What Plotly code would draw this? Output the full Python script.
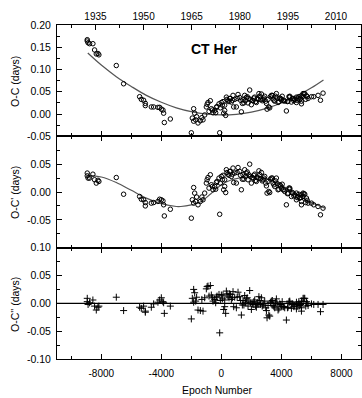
import plotly.graph_objects as go

# ---------------- data ----------------
epoch = [-8934, -8934, -8880, -8780, -8560, -8447, -8333, -8160, -8220, -7000,
         -6513, -5447, -5333, -5180, -5067, -5067, -4667, -4513, -4227, -4113,
         -4000, -3893, -3847, -3800, -3400,
         -2002, -113, -1847, -1780, -1936, -1847, -1713, -1558, -1402, -1225,
         -1113, -1002, -891, -736, -824, -669, -558, -447, -380, -291,
         -158, -69, -2, 64, 153, 220, 286, 331, 442, 553,
         664, 775, 886, 997, 1109, 1220, 1331, 1397, 1442, 1553,
         1664, 1775, 1886, 1931, 1997, 2108, 2220, 2331, 2442, 2553,
         2664, 2775, 2886, 2953, 3042, 3108, 3219, 3331, 3442, 3553,
         3664, 3775, 3886, 3997, 4108, 4219, 4330, 4442, 4553, 4664,
         4775, 4886, 4997, 5108, 5219, 5330, 5441, 5619, 5775, 4553,
         5000, 5333, 5440, 5553, 5333, 5667, 6000, 6153, 6440, 6600, 6773,
         -336, 109, 220, 375, 508, 597, 731, 820, 1050, 1280,
         1500, 1600, 1720, 1830, 2050, 2160, 2280, 2390, 2500, 2610,
         2720, 2830, 3000, 3160, 3264, 3397, 3500, 3610, 3720, 3830,
         3950, 4050, 4160, 4400, 4500, 4720, 4830, 5050, 5160, 5280,
         5500, 5720, -600, -950, -1300, -1650]

oc = [0.167, 0.164, 0.160, 0.158, 0.158, 0.144, 0.135, 0.133, 0.136, 0.109,
      0.068, 0.039, 0.033, 0.031, 0.024, 0.019, 0.016, 0.016, 0.015, 0.015,
      0.011, 0.009, 0.002, -0.019, -0.011,
      -0.042, -0.042, 0.012, 0.002, -0.009, -0.016, -0.013, -0.020, -0.015, -0.013,
      -0.002, 0.016, 0.026, 0.030, 0.006, 0.012, 0.003, 0.008, 0.003, 0.017,
      0.023, 0.014, 0.026, 0.020, 0.002, 0.008, -0.003, 0.038, 0.030, 0.035,
      0.027, 0.042, 0.033, 0.016, 0.044, 0.037, 0.005, 0.024, 0.032, 0.042,
      0.037, 0.025, 0.054, 0.032, 0.021, 0.030, 0.038, 0.026, 0.033, 0.040,
      0.045, 0.033, 0.040, 0.029, 0.011, 0.033, 0.014, 0.042, 0.034, 0.029,
      0.046, 0.026, 0.036, 0.032, 0.030, 0.029, 0.007, 0.029, 0.038, 0.027,
      0.035, 0.033, 0.026, 0.034, 0.033, 0.029, 0.046, 0.033, 0.035, 0.040,
      0.038, 0.041, 0.040, 0.046, 0.023, 0.041, 0.039, 0.039, 0.042, 0.031, 0.047,
      0.015, 0.028, 0.020, 0.033, 0.028, 0.035, 0.031, 0.016, 0.035, 0.031,
      0.025, 0.030, 0.039, 0.035, 0.031, 0.036, 0.028, 0.035, 0.046, 0.033,
      0.030, 0.036, 0.024, 0.016, 0.039, 0.042, 0.031, 0.040, 0.036, 0.028,
      0.035, 0.040, 0.031, 0.028, 0.039, 0.035, 0.030, 0.031, 0.039, 0.035,
      0.046, 0.039, 0.009, 0.022, -0.008, -0.006]

oc1 = [0.034, 0.029, 0.025, 0.025, 0.032, 0.022, 0.016, 0.019, 0.021, 0.026,
       -0.004, -0.008, -0.013, -0.014, -0.019, -0.025, -0.020, -0.019, -0.017, -0.013,
       -0.014, -0.016, -0.023, -0.043, -0.031,
       -0.047, -0.040, 0.008, -0.002, -0.014, -0.020, -0.017, -0.023, -0.017, -0.014,
       -0.002, 0.016, 0.026, 0.031, 0.007, 0.013, 0.004, 0.010, 0.005, 0.019,
       0.025, 0.016, 0.028, 0.022, 0.004, 0.010, -0.001, 0.040, 0.032, 0.037,
       0.028, 0.043, 0.034, 0.016, 0.044, 0.037, 0.004, 0.023, 0.031, 0.040,
       0.034, 0.022, 0.050, 0.028, 0.016, 0.025, 0.032, 0.019, 0.025, 0.031,
       0.035, 0.022, 0.028, 0.016, -0.002, 0.019, -0.001, 0.025, 0.016, 0.010,
       0.025, 0.004, 0.013, 0.007, 0.004, 0.001, -0.023, -0.002, 0.005, -0.008,
       -0.002, -0.005, -0.014, -0.008, -0.011, -0.017, -0.002, -0.019, -0.020, 0.007,
       -0.002, -0.005, -0.008, -0.004, -0.023, -0.011, -0.020, -0.023, -0.026, -0.041, -0.029,
       0.017, 0.030, 0.022, 0.035, 0.030, 0.037, 0.032, 0.017, 0.035, 0.030,
       0.023, 0.028, 0.036, 0.031, 0.026, 0.030, 0.021, 0.027, 0.038, 0.024,
       0.020, 0.025, 0.011, 0.001, 0.023, 0.025, 0.013, 0.020, 0.015, 0.005,
       0.011, 0.014, 0.004, -0.003, 0.007, -0.001, -0.007, -0.010, -0.004, -0.010,
       -0.003, -0.015, 0.010, 0.022, -0.009, -0.009]

oc2 = [0.009, 0.003, -0.002, 0.001, 0.006, -0.005, -0.012, -0.005, -0.007, 0.011,
       -0.013, -0.007, -0.009, -0.005, -0.014, -0.016, -0.007, -0.001, 0.002, 0.006,
       0.010, 0.003, 0.001, -0.018, -0.005,
       -0.028, -0.053, 0.025, 0.019, 0.009, 0.002, 0.004, -0.012, -0.013, -0.014,
       0.010, 0.026, 0.031, 0.032, 0.013, 0.015, 0.004, 0.007, 0.001, 0.013,
       0.016, 0.005, 0.015, 0.008, -0.011, -0.006, -0.018, 0.022, 0.013, 0.017,
       0.007, 0.021, 0.011, -0.008, 0.020, 0.012, -0.021, -0.003, 0.005, 0.014,
       0.008, -0.005, 0.023, 0.001, -0.011, -0.002, 0.006, -0.007, -0.001, 0.005,
       0.010, -0.003, 0.004, -0.008, -0.026, -0.004, -0.023, 0.004, -0.004, -0.008,
       0.008, -0.012, -0.001, -0.005, -0.006, -0.008, -0.030, -0.007, 0.002, -0.009,
       -0.002, -0.003, -0.010, -0.002, -0.004, -0.008, 0.009, -0.005, -0.004, 0.004,
       0.002, 0.004, 0.003, 0.009, -0.014, 0.003, -0.001, -0.002, -0.002, -0.015, -0.002,
       0.011, 0.015, 0.006, 0.017, 0.010, 0.016, 0.010, -0.006, 0.011, 0.005,
       -0.003, 0.002, 0.010, 0.004, -0.001, 0.003, -0.005, 0.001, 0.012, -0.002,
       -0.005, 0.000, -0.013, -0.021, 0.002, 0.005, -0.006, 0.002, -0.001, -0.010,
       -0.002, 0.003, -0.006, -0.008, 0.003, -0.001, -0.006, -0.005, 0.003, -0.002,
       0.009, 0.000, 0.010, 0.030, 0.007, 0.011]

# fitted parabola (top panel) and cyclic fit (middle panel)
fit_epoch = [-8900, -8000, -7000, -6000, -5000, -4000, -3000, -2000, -1000, 0,
             1000, 2000, 3000, 4000, 5000, 6000, 6800]
fit_oc = [0.137, 0.110, 0.084, 0.062, 0.042, 0.0265, 0.014, 0.0054, -0.0001, -0.002,
          -0.0005, 0.0045, 0.0129, 0.0249, 0.0402, 0.059, 0.0766]

cyc_epoch = [-8900, -8000, -7000, -6000, -5000, -4000, -3000, -2700, -2000, -1400,
             -700, 0, 600, 1000, 1700, 2300, 2900, 3500, 4000, 5000, 6000, 6900]
cyc_oc1 = [0.030, 0.027, 0.017, 0.003, -0.011, -0.021, -0.026, -0.026, -0.023, -0.018,
           -0.003, 0.013, 0.021, 0.024, 0.027, 0.027, 0.025, 0.019, 0.012, -0.004,
           -0.019, -0.029]

epoch_ticks = [-8000, -4000, 0, 4000, 8000]
epoch_labels = ["-8000", "-4000", "0", "4000", "8000"]
year_ticks = [1935, 1950, 1965, 1980, 1995, 2010]
year_minor = [1927.5, 1942.5, 1957.5, 1972.5, 1987.5, 2002.5]

y1_ticks = [-0.05, 0.00, 0.05, 0.10, 0.15, 0.20]
y1_labels = ["-0.05", "0.00", "0.05", "0.10", "0.15", "0.20"]
y2_ticks = [-0.10, -0.05, 0.00, 0.05, 0.10]
y2_labels = ["", "-0.05", "0.00", "0.05", ""]
y3_ticks = [-0.10, -0.05, 0.00, 0.05, 0.10]
y3_labels = ["-0.10", "-0.05", "0.00", "0.05", "0.10"]

X_RANGE = [-10950, 9300]
YEAR_RANGE = [1923.0, 2017.8]

FONT = "Liberation Sans, Arial, sans-serif"

# ---------------- figure ----------------
fig = go.Figure()

circle = dict(symbol="circle-open", size=4.5, color="black", line=dict(width=1, color="black"))

fig.add_trace(go.Scatter(x=fit_epoch, y=fit_oc, mode="lines",
                         line=dict(color="#555555", width=1.2, shape="spline"),
                         xaxis="x", yaxis="y", hoverinfo="skip"))
fig.add_trace(go.Scatter(x=epoch, y=oc, mode="markers", marker=circle, xaxis="x", yaxis="y"))

fig.add_trace(go.Scatter(x=cyc_epoch, y=cyc_oc1, mode="lines",
                         line=dict(color="#555555", width=1.2, shape="spline"),
                         xaxis="x2", yaxis="y2", hoverinfo="skip"))
fig.add_trace(go.Scatter(x=epoch, y=oc1, mode="markers", marker=circle, xaxis="x2", yaxis="y2"))

fig.add_trace(go.Scatter(x=epoch, y=oc2, mode="markers",
                         marker=dict(symbol="cross-thin-open", size=5, color="black",
                                     line=dict(width=1, color="black")),
                         xaxis="x3", yaxis="y3"))

# empty trace so that the top (calendar year) axis gets drawn
fig.add_trace(go.Scatter(x=[year_ticks[0]], y=[None], mode="markers", xaxis="x4", yaxis="y",
                         hoverinfo="skip", showlegend=False))

fig.add_shape(type="line", xref="x3 domain", x0=0, x1=1, yref="y3", y0=0, y1=0,
              line=dict(color="black", width=1.2), layer="below")

common_x = dict(range=X_RANGE, showline=True, linecolor="black", linewidth=1,
                ticks="inside", ticklen=5, tickwidth=1, tickcolor="black",
                tickmode="array", tickvals=epoch_ticks, ticktext=epoch_labels,
                minor=dict(ticks="inside", ticklen=3, tickwidth=1, tickcolor="black", dtick=2000, tick0=0),
                showgrid=False, zeroline=False,
                tickfont=dict(family=FONT, size=10, color="black"))

common_y = dict(showline=True, linecolor="black", linewidth=1, mirror="ticks",
                ticks="inside", ticklen=5, tickwidth=1, tickcolor="black",
                tickmode="array",
                minor=dict(ticks="inside", ticklen=3, tickwidth=1, tickcolor="black", dtick=0.025, tick0=0),
                showgrid=False, zeroline=False, ticklabelstandoff=3,
                tickfont=dict(family=FONT, size=10.5, color="black"))

fig.update_layout(
    width=362, height=398,
    margin=dict(l=57, r=1, t=25, b=39),
    paper_bgcolor="white", plot_bgcolor="white",
    showlegend=False,
    xaxis=dict(common_x, domain=[0, 1], anchor="y", showticklabels=False, mirror=False),
    xaxis2=dict(common_x, domain=[0, 1], anchor="y2", showticklabels=False, mirror="ticks"),
    xaxis3=dict(common_x, domain=[0, 1], anchor="y3", showticklabels=True, mirror="ticks",
                ticklabelstandoff=5),
    xaxis4=dict(range=YEAR_RANGE, overlaying="x", side="top", anchor="y",
                showline=True, linecolor="black", linewidth=1,
                ticks="inside", ticklen=5, tickwidth=1, tickcolor="black",
                tickmode="array", tickvals=year_ticks, ticktext=[str(t) for t in year_ticks],
                minor=dict(ticks="inside", ticklen=3, tickwidth=1, tickcolor="black",
                           tickmode="array", tickvals=year_minor),
                showgrid=False, zeroline=False, ticklabelstandoff=0,
                tickfont=dict(family=FONT, size=10, color="black")),
    yaxis=dict(common_y, domain=[2/3, 1], range=[-0.05, 0.20], anchor="x",
               tickvals=y1_ticks, ticktext=y1_labels),
    yaxis2=dict(common_y, domain=[1/3, 2/3], range=[-0.10, 0.10], anchor="x2",
                tickvals=y2_ticks, ticktext=y2_labels),
    yaxis3=dict(common_y, domain=[0, 1/3], range=[-0.10, 0.10], anchor="x3",
                tickvals=y3_ticks, ticktext=y3_labels),
)

def px_x(p):
    return (p - 57) / 304.0

def px_y(p):
    return (359 - p) / 334.0

annots = [
    dict(text="<b>CT Her</b>", x=px_x(214), y=px_y(49), size=14, angle=0),
    dict(text="O-C (days)", x=px_x(15), y=px_y(81), size=10.5, angle=-90),
    dict(text="O-C' (days)", x=px_x(15), y=px_y(192), size=10.5, angle=-90),
    dict(text="O-C'' (days)", x=px_x(15), y=px_y(304), size=10.5, angle=-90),
    dict(text="Epoch Number", x=px_x(217), y=px_y(390), size=10.5, angle=0),
]
for a in annots:
    fig.add_annotation(text=a["text"], x=a["x"], y=a["y"], xref="paper", yref="paper",
                       xanchor="center", yanchor="middle", showarrow=False, textangle=a["angle"],
                       font=dict(family=FONT, size=a["size"], color="black"))

fig.write_html("out.html")
